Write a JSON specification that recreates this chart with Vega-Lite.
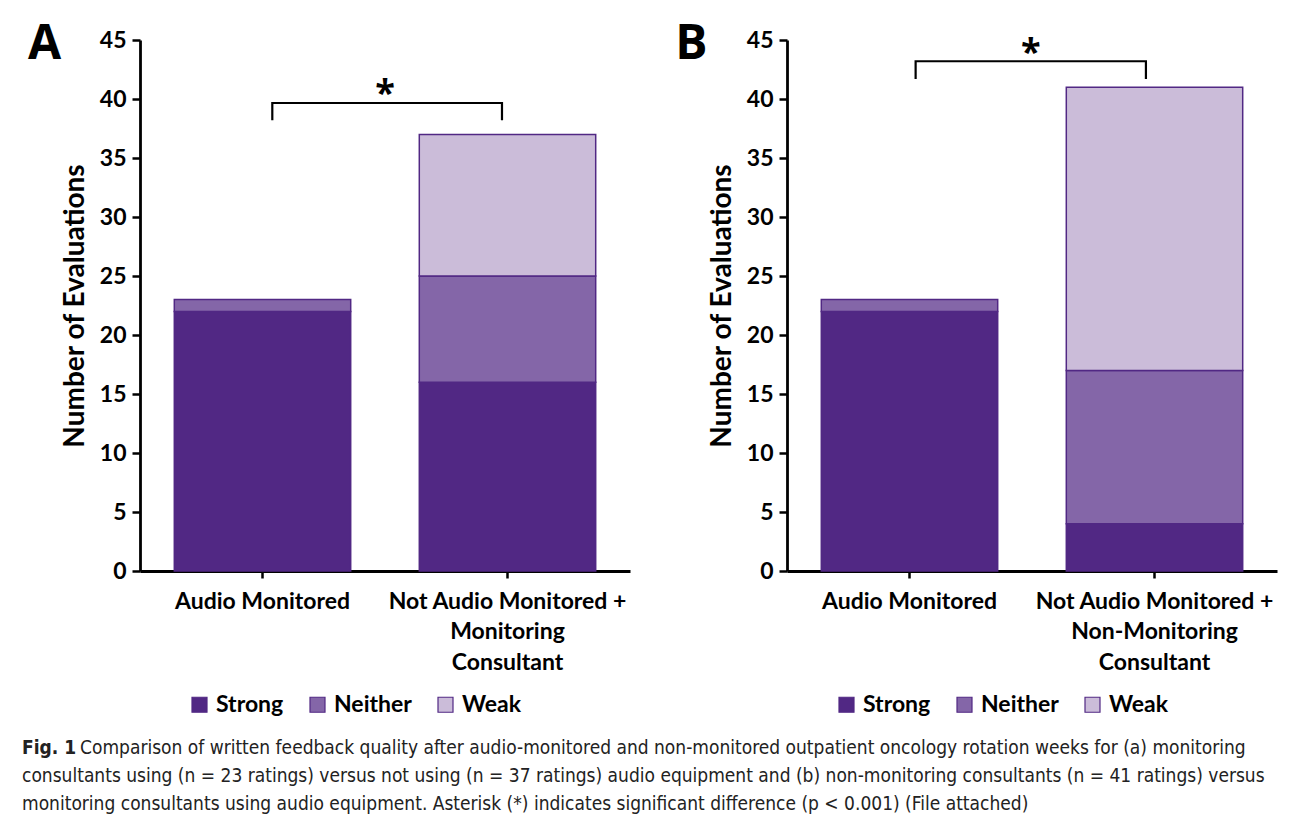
{
  "$schema": "https://vega.github.io/schema/vega-lite/v6.json",
  "background": "white",
  "padding": {"left": 22, "top": 20, "right": 10, "bottom": 0},
  "config": {
    "view": {"stroke": null},
    "font": "Lato",
    "axis": {"labelFont": "Lato", "labelFontWeight": "bold", "labelFontSize": 23, "labelColor": "black", "titleFont": "Lato", "titleFontWeight": "bold", "titleFontSize": 28, "titleColor": "black", "domainColor": "black", "domainWidth": 2.8, "tickColor": "black", "tickWidth": 2.5, "tickSize": 8, "grid": false, "labelLimit": 0},
    "legend": {"labelFont": "Lato", "labelFontWeight": "bold", "labelFontSize": 23, "labelColor": "black"}
  },
  "datasets": {
    "bars": [
      {"panel": "A", "group": "Audio Monitored", "quality": "Strong", "rank": 1, "count": 22},
      {"panel": "A", "group": "Audio Monitored", "quality": "Neither", "rank": 2, "count": 1},
      {"panel": "A", "group": "Not Audio Monitored +|Monitoring|Consultant", "quality": "Strong", "rank": 1, "count": 16},
      {"panel": "A", "group": "Not Audio Monitored +|Monitoring|Consultant", "quality": "Neither", "rank": 2, "count": 9},
      {"panel": "A", "group": "Not Audio Monitored +|Monitoring|Consultant", "quality": "Weak", "rank": 3, "count": 12},
      {"panel": "B", "group": "Audio Monitored", "quality": "Strong", "rank": 1, "count": 22},
      {"panel": "B", "group": "Audio Monitored", "quality": "Neither", "rank": 2, "count": 1},
      {"panel": "B", "group": "Not Audio Monitored +|Non-Monitoring|Consultant", "quality": "Strong", "rank": 1, "count": 4},
      {"panel": "B", "group": "Not Audio Monitored +|Non-Monitoring|Consultant", "quality": "Neither", "rank": 2, "count": 13},
      {"panel": "B", "group": "Not Audio Monitored +|Non-Monitoring|Consultant", "quality": "Weak", "rank": 3, "count": 24}
    ],
    "bracket": [
      {"panel": "A", "bx": 1.08, "by": 38.2},
      {"panel": "A", "bx": 1.08, "by": 39.66},
      {"panel": "A", "bx": 2.955, "by": 39.66},
      {"panel": "A", "bx": 2.955, "by": 38.2},
      {"panel": "B", "bx": 1.05, "by": 41.7},
      {"panel": "B", "bx": 1.05, "by": 43.2},
      {"panel": "B", "bx": 2.93, "by": 43.2},
      {"panel": "B", "bx": 2.93, "by": 41.7}
    ],
    "stars": [
      {"panel": "A", "label": "*", "tx": 2.0, "ty": 39.45},
      {"panel": "B", "label": "*", "tx": 1.99, "ty": 43.0}
    ],
    "letters": [
      {"panel": "A", "label": "A", "tx": -0.78, "ty": 44.6},
      {"panel": "B", "label": "B", "tx": -0.78, "ty": 44.6}
    ],
    "caption": [
      {"line": 1, "text": "Comparison of written feedback quality after audio-monitored and non-monitored outpatient oncology rotation weeks for (a) monitoring"},
      {"line": 2, "text": "consultants using (n = 23 ratings) versus not using (n = 37 ratings) audio equipment and (b) non-monitoring consultants (n = 41 ratings) versus"},
      {"line": 3, "text": "monitoring consultants using audio equipment. Asterisk (*) indicates significant difference (p < 0.001) (File attached)"}
    ]
  },
  "vconcat": [
    {
      "hconcat": [
        {
          "width": 490,
          "height": 531,
          "resolve": {"scale": {"x": "independent"}},
          "layer": [
            {
              "data": {"name": "bars"},
              "transform": [{"filter": "datum.panel == 'A'"}],
              "mark": {"type": "bar", "stroke": "#512884", "strokeWidth": 1.5},
              "encoding": {
                "x": {"field": "group", "type": "nominal", "sort": null, "scale": {"paddingInner": 0.28, "paddingOuter": 0.14},
                  "axis": {"title": null, "labelAngle": 0, "labelExpr": "split(datum.value, '|')", "labelLineHeight": 30.5, "labelPadding": 12, "labelBaseline": "top", "tickSize": 7}},
                "y": {"field": "count", "type": "quantitative", "stack": "zero", "scale": {"domain": [0, 45]},
                  "axis": {"values": [0, 5, 10, 15, 20, 25, 30, 35, 40, 45], "title": "Number of Evaluations", "labelPadding": 6, "titlePadding": 10}},
                "color": {"field": "quality", "type": "nominal",
                  "scale": {"domain": ["Strong", "Neither", "Weak"], "range": ["#512884", "#8466A8", "#CBBCD9"]},
                  "legend": {"title": null, "orient": "none", "legendX": 48, "legendY": 653, "direction": "horizontal", "symbolType": "square", "symbolSize": 225, "symbolStrokeColor": "#512884", "symbolStrokeWidth": 1.2, "columnPadding": 22, "labelOffset": 5}},
                "order": {"field": "rank", "type": "quantitative", "sort": "ascending"}
              }
            },
            {
              "data": {"name": "bracket"},
              "transform": [{"filter": "datum.panel == 'A'"}],
              "mark": {"type": "line", "color": "black", "strokeWidth": 2.2},
              "encoding": {
                "x": {"field": "bx", "type": "quantitative", "scale": {"domain": [0, 4]}, "axis": null},
                "y": {"field": "by", "type": "quantitative"},
                "order": {"value": null}
              }
            },
            {
              "data": {"name": "stars"},
              "transform": [{"filter": "datum.panel == 'A'"}],
              "mark": {"type": "text", "font": "Open Sans", "fontSize": 36, "fontWeight": "bold", "color": "black", "baseline": "alphabetic", "align": "center"},
              "encoding": {
                "x": {"field": "tx", "type": "quantitative", "scale": {"domain": [0, 4]}, "axis": null},
                "y": {"field": "ty", "type": "quantitative"},
                "text": {"field": "label"}
              }
            },
            {
              "data": {"name": "letters"},
              "transform": [{"filter": "datum.panel == 'A'"}],
              "mark": {"type": "text", "fontSize": 48, "fontWeight": "bold", "font": "Open Sans", "color": "black", "baseline": "middle", "align": "center"},
              "encoding": {
                "x": {"field": "tx", "type": "quantitative", "scale": {"domain": [0, 4]}, "axis": null},
                "y": {"field": "ty", "type": "quantitative"},
                "text": {"field": "label"}
              }
            }
          ]
        },
        {
          "width": 490,
          "height": 531,
          "resolve": {"scale": {"x": "independent"}},
          "layer": [
            {
              "data": {"name": "bars"},
              "transform": [{"filter": "datum.panel == 'B'"}],
              "mark": {"type": "bar", "stroke": "#512884", "strokeWidth": 1.5},
              "encoding": {
                "x": {"field": "group", "type": "nominal", "sort": null, "scale": {"paddingInner": 0.28, "paddingOuter": 0.14},
                  "axis": {"title": null, "labelAngle": 0, "labelExpr": "split(datum.value, '|')", "labelLineHeight": 30.5, "labelPadding": 12, "labelBaseline": "top", "tickSize": 7}},
                "y": {"field": "count", "type": "quantitative", "stack": "zero", "scale": {"domain": [0, 45]},
                  "axis": {"values": [0, 5, 10, 15, 20, 25, 30, 35, 40, 45], "title": "Number of Evaluations", "labelPadding": 6, "titlePadding": 10}},
                "color": {"field": "quality", "type": "nominal",
                  "scale": {"domain": ["Strong", "Neither", "Weak"], "range": ["#512884", "#8466A8", "#CBBCD9"]},
                  "legend": {"title": null, "orient": "none", "legendX": 48, "legendY": 653, "direction": "horizontal", "symbolType": "square", "symbolSize": 225, "symbolStrokeColor": "#512884", "symbolStrokeWidth": 1.2, "columnPadding": 22, "labelOffset": 5}},
                "order": {"field": "rank", "type": "quantitative", "sort": "ascending"}
              }
            },
            {
              "data": {"name": "bracket"},
              "transform": [{"filter": "datum.panel == 'B'"}],
              "mark": {"type": "line", "color": "black", "strokeWidth": 2.2},
              "encoding": {
                "x": {"field": "bx", "type": "quantitative", "scale": {"domain": [0, 4]}, "axis": null},
                "y": {"field": "by", "type": "quantitative"},
                "order": {"value": null}
              }
            },
            {
              "data": {"name": "stars"},
              "transform": [{"filter": "datum.panel == 'B'"}],
              "mark": {"type": "text", "font": "Open Sans", "fontSize": 36, "fontWeight": "bold", "color": "black", "baseline": "alphabetic", "align": "center"},
              "encoding": {
                "x": {"field": "tx", "type": "quantitative", "scale": {"domain": [0, 4]}, "axis": null},
                "y": {"field": "ty", "type": "quantitative"},
                "text": {"field": "label"}
              }
            },
            {
              "data": {"name": "letters"},
              "transform": [{"filter": "datum.panel == 'B'"}],
              "mark": {"type": "text", "fontSize": 48, "fontWeight": "bold", "font": "Open Sans", "color": "black", "baseline": "middle", "align": "center"},
              "encoding": {
                "x": {"field": "tx", "type": "quantitative", "scale": {"domain": [0, 4]}, "axis": null},
                "y": {"field": "ty", "type": "quantitative"},
                "text": {"field": "label"}
              }
            }
          ]
        }
      ],
      "spacing": 45,
      "resolve": {"scale": {"color": "independent"}}
    },
    {
      "width": 1250,
      "height": 84,
      "data": {"name": "caption"},
      "layer": [
        {
          "mark": {"type": "text", "align": "left", "baseline": "middle", "font": "Liberation Sans Narrow, DejaVu Sans Condensed, sans-serif", "fontSize": 19, "color": "#222", "dx": 58},
          "transform": [{"filter": "datum.line == 1"}],
          "encoding": {
            "x": {"datum": -0.0944, "type": "quantitative", "scale": {"domain": [0, 1]}, "axis": null},
            "y": {"field": "line", "type": "ordinal", "scale": {"domain": [1, 2, 3]}, "axis": null},
            "text": {"field": "text"}
          }
        },
        {
          "mark": {"type": "text", "align": "left", "baseline": "middle", "font": "Liberation Sans Narrow, DejaVu Sans Condensed, sans-serif", "fontSize": 19, "color": "#222"},
          "transform": [{"filter": "datum.line > 1"}],
          "encoding": {
            "x": {"datum": -0.0944, "type": "quantitative", "scale": {"domain": [0, 1]}, "axis": null},
            "y": {"field": "line", "type": "ordinal", "scale": {"domain": [1, 2, 3]}, "axis": null},
            "text": {"field": "text"}
          }
        },
        {
          "mark": {"type": "text", "align": "left", "baseline": "middle", "font": "Liberation Sans Narrow, DejaVu Sans Condensed, sans-serif", "fontSize": 19, "fontWeight": "bold", "color": "#222"},
          "transform": [{"filter": "datum.line == 1"}],
          "encoding": {
            "x": {"datum": -0.0944, "type": "quantitative", "scale": {"domain": [0, 1]}, "axis": null},
            "y": {"field": "line", "type": "ordinal", "scale": {"domain": [1, 2, 3]}, "axis": null},
            "text": {"value": "Fig. 1"}
          }
        }
      ]
    }
  ],
  "spacing": 17
}
